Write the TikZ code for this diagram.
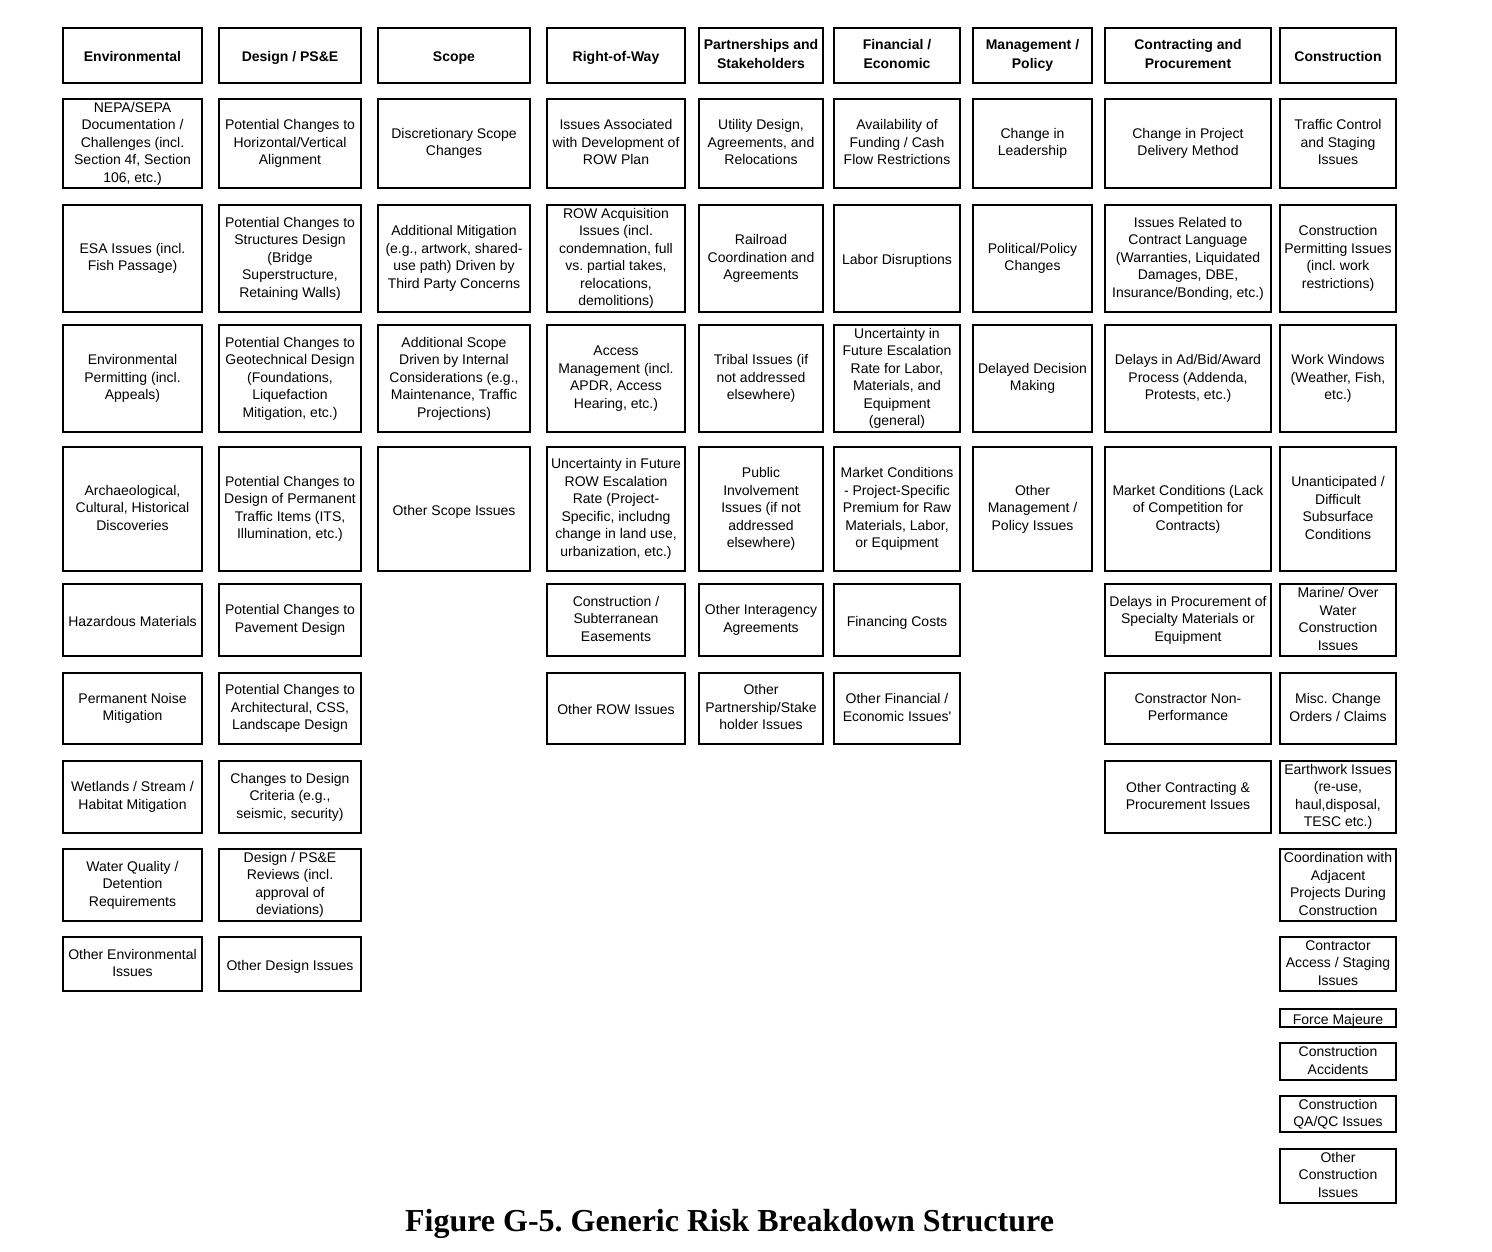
\documentclass[tikz,border=0pt]{standalone}
\usepackage{fontspec}
\setmainfont{Liberation Sans}
\newfontfamily\captionserif{Liberation Serif}
\usetikzlibrary{positioning}
\frenchspacing
\newcommand\topstrut{\rule{0pt}{15pt}}
\newcommand\botstrut{\rule[-2.5pt]{0pt}{2.5pt}}

\begin{document}
\begin{tikzpicture}[x=1pt, y=-1pt,
    hdr/.style={draw, line width=2.8pt, inner sep=0pt, align=center, font=\fontsize{14}{19}\selectfont\bfseries,
        execute at begin node=\topstrut, execute at end node=\botstrut},
    itm/.style={draw, line width=2pt, inner sep=0pt, align=center, font=\fontsize{14}{17.5}\selectfont,
        execute at begin node=\topstrut, execute at end node=\botstrut},
    w1/.style={minimum width=139pt}, w2/.style={minimum width=142pt}, w3/.style={minimum width=152pt},
    w4/.style={minimum width=138pt}, w5/.style={minimum width=124pt}, w6/.style={minimum width=126pt},
    w7/.style={minimum width=119pt}, w8/.style={minimum width=166pt}, w9/.style={minimum width=116pt},
    h0/.style={minimum height=55pt}, h1/.style={minimum height=89pt}, h2/.style={minimum height=107pt},
    h3/.style={minimum height=107pt}, h4/.style={minimum height=124pt}, h5/.style={minimum height=72pt},
    h6/.style={minimum height=71pt}, h7/.style={minimum height=72pt}, h8/.style={minimum height=72pt},
    h9/.style={minimum height=54pt}, h10/.style={minimum height=18pt}, h11/.style={minimum height=37pt},
    h12/.style={minimum height=36pt}, h13/.style={minimum height=54pt}
]
\useasboundingbox (0,0) rectangle (1492,1251);

% header row
\node[hdr, w1, h0] (hEnv) at (132.5,55.5) {Environmental};
\node[hdr, w2, h0] (hDes) at (290,55.5) {Design / PS\&E};
\node[hdr, w3, h0] (hScp) at (454,55.5) {Scope};
\node[hdr, w4, h0] (hRow) at (616,55.5) {Right-of-Way};
\node[hdr, w5, h0] (hPar) at (761,55.5) {Partnerships and\\Stakeholders};
\node[hdr, w6, h0] (hFin) at (897,55.5) {Financial /\\Economic};
\node[hdr, w7, h0] (hMgt) at (1032.5,55.5) {Management /\\Policy};
\node[hdr, w8, h0] (hCon) at (1188,55.5) {Contracting and\\Procurement};
\node[hdr, w9, h0] (hCst) at (1338,55.5) {Construction};

% Environmental
\node[itm, w1, h1] (env1) at (132.5,143.5) {NEPA/SEPA\\Documentation /\\Challenges (incl.\\Section 4f, Section\\106, etc.)};
\node[itm, w1, h2] (env2) at (132.5,258.5) {ESA Issues (incl.\\Fish Passage)};
\node[itm, w1, h3] (env3) at (132.5,378.5) {Environmental\\Permitting (incl.\\Appeals)};
\node[itm, w1, h4] (env4) at (132.5,509) {Archaeological,\\Cultural, Historical\\Discoveries};
\node[itm, w1, h5] (env5) at (132.5,620) {Hazardous Materials};
\node[itm, w1, h6] (env6) at (132.5,708.5) {Permanent Noise\\Mitigation};
\node[itm, w1, h7] (env7) at (132.5,797) {Wetlands / Stream /\\Habitat Mitigation};
\node[itm, w1, h8] (env8) at (132.5,885) {Water Quality /\\Detention\\Requirements};
\node[itm, w1, h9] (env9) at (132.5,964) {Other Environmental\\Issues};

% Design / PS&E
\node[itm, w2, h1] (des1) at (290,143.5) {Potential Changes to\\Horizontal/Vertical\\Alignment};
\node[itm, w2, h2] (des2) at (290,258.5) {Potential Changes to\\Structures Design\\(Bridge\\Superstructure,\\Retaining Walls)};
\node[itm, w2, h3] (des3) at (290,378.5) {Potential Changes to\\Geotechnical Design\\(Foundations,\\Liquefaction\\Mitigation, etc.)};
\node[itm, w2, h4] (des4) at (290,509) {Potential Changes to\\Design of Permanent\\Traffic Items (ITS,\\Illumination, etc.)};
\node[itm, w2, h5] (des5) at (290,620) {Potential Changes to\\Pavement Design};
\node[itm, w2, h6] (des6) at (290,708.5) {Potential Changes to\\Architectural, CSS,\\Landscape Design};
\node[itm, w2, h7] (des7) at (290,797) {Changes to Design\\Criteria (e.g.,\\seismic, security)};
\node[itm, w2, h8] (des8) at (290,885) {Design / PS\&E\\Reviews (incl.\\approval of\\deviations)};
\node[itm, w2, h9] (des9) at (290,964) {Other Design Issues};

% Scope
\node[itm, w3, h1] (scp1) at (454,143.5) {Discretionary Scope\\Changes};
\node[itm, w3, h2] (scp2) at (454,258.5) {Additional Mitigation\\(e.g., artwork, shared-\\use path) Driven by\\Third Party Concerns};
\node[itm, w3, h3] (scp3) at (454,378.5) {Additional Scope\\Driven by Internal\\Considerations (e.g.,\\Maintenance, Traffic\\Projections)};
\node[itm, w3, h4] (scp4) at (454,509) {Other Scope Issues};

% Right-of-Way
\node[itm, w4, h1] (row1) at (616,143.5) {Issues Associated\\with Development of\\ROW Plan};
\node[itm, w4, h2] (row2) at (616,258.5) {ROW Acquisition\\Issues (incl.\\condemnation, full\\vs. partial takes,\\relocations,\\demolitions)};
\node[itm, w4, h3] (row3) at (616,378.5) {Access\\Management (incl.\\APDR, Access\\Hearing, etc.)};
\node[itm, w4, h4] (row4) at (616,509) {Uncertainty in Future\\ROW Escalation\\Rate (Project-\\Specific, includng\\change in land use,\\urbanization, etc.)};
\node[itm, w4, h5] (row5) at (616,620) {Construction /\\Subterranean\\Easements};
\node[itm, w4, h6] (row6) at (616,708.5) {Other ROW Issues};

% Partnerships and Stakeholders
\node[itm, w5, h1] (par1) at (761,143.5) {Utility Design,\\Agreements, and\\Relocations};
\node[itm, w5, h2] (par2) at (761,258.5) {Railroad\\Coordination and\\Agreements};
\node[itm, w5, h3] (par3) at (761,378.5) {Tribal Issues (if\\not addressed\\elsewhere)};
\node[itm, w5, h4] (par4) at (761,509) {Public\\Involvement\\Issues (if not\\addressed\\elsewhere)};
\node[itm, w5, h5] (par5) at (761,620) {Other Interagency\\Agreements};
\node[itm, w5, h6] (par6) at (761,708.5) {Other\\Partnership/Stake\\holder Issues};

% Financial / Economic
\node[itm, w6, h1] (fin1) at (897,143.5) {Availability of\\Funding / Cash\\Flow Restrictions};
\node[itm, w6, h2] (fin2) at (897,258.5) {Labor Disruptions};
\node[itm, w6, h3] (fin3) at (897,378.5) {Uncertainty in\\Future Escalation\\Rate for Labor,\\Materials, and\\Equipment\\(general)};
\node[itm, w6, h4] (fin4) at (897,509) {Market Conditions\\- Project-Specific\\Premium for Raw\\Materials, Labor,\\or Equipment};
\node[itm, w6, h5] (fin5) at (897,620) {Financing Costs};
\node[itm, w6, h6] (fin6) at (897,708.5) {Other Financial /\\Economic Issues\textquotesingle};

% Management / Policy
\node[itm, w7, h1] (mgt1) at (1032.5,143.5) {Change in\\Leadership};
\node[itm, w7, h2] (mgt2) at (1032.5,258.5) {Political/Policy\\Changes};
\node[itm, w7, h3] (mgt3) at (1032.5,378.5) {Delayed Decision\\Making};
\node[itm, w7, h4] (mgt4) at (1032.5,509) {Other\\Management /\\Policy Issues};

% Contracting and Procurement
\node[itm, w8, h1] (con1) at (1188,143.5) {Change in Project\\Delivery Method};
\node[itm, w8, h2] (con2) at (1188,258.5) {Issues Related to\\Contract Language\\(Warranties, Liquidated\\Damages, DBE,\\Insurance/Bonding, etc.)};
\node[itm, w8, h3] (con3) at (1188,378.5) {Delays in Ad/Bid/Award\\Process (Addenda,\\Protests, etc.)};
\node[itm, w8, h4] (con4) at (1188,509) {Market Conditions (Lack\\of Competition for\\Contracts)};
\node[itm, w8, h5] (con5) at (1188,620) {Delays in Procurement of\\Specialty Materials or\\Equipment};
\node[itm, w8, h6] (con6) at (1188,708.5) {Constractor Non-\\Performance};
\node[itm, w8, h7] (con7) at (1188,797) {Other Contracting \&\\Procurement Issues};

% Construction
\node[itm, w9, h1] (cst1) at (1338,143.5) {Traffic Control\\and Staging\\Issues};
\node[itm, w9, h2] (cst2) at (1338,258.5) {Construction\\Permitting Issues\\(incl. work\\restrictions)};
\node[itm, w9, h3] (cst3) at (1338,378.5) {Work Windows\\(Weather, Fish,\\etc.)};
\node[itm, w9, h4] (cst4) at (1338,509) {Unanticipated /\\Difficult\\Subsurface\\Conditions};
\node[itm, w9, h5] (cst5) at (1338,620) {Marine/ Over\\Water\\Construction\\Issues};
\node[itm, w9, h6] (cst6) at (1338,708.5) {Misc. Change\\Orders / Claims};
\node[itm, w9, h7] (cst7) at (1338,797) {Earthwork Issues\\(re-use,\\haul,disposal,\\TESC etc.)};
\node[itm, w9, h8] (cst8) at (1338,885) {Coordination with\\Adjacent\\Projects During\\Construction};
\node[itm, w9, h9] (cst9) at (1338,964) {Contractor\\Access / Staging\\Issues};
\node[itm, w9, h10] (cst10) at (1338,1018) {Force Majeure};
\node[itm, w9, h11] (cst11) at (1338,1061.5) {Construction\\Accidents};
\node[itm, w9, h12] (cst12) at (1338,1114) {Construction\\QA/QC Issues};
\node[itm, w9, h13] (cst13) at (1338,1176) {Other\\Construction\\Issues};

% caption
\node[font=\captionserif\bfseries\fontsize{32}{36}\selectfont, inner sep=0pt] (caption) at (729.5,1224) {Figure G-5. Generic Risk Breakdown Structure};
\end{tikzpicture}
\end{document}
